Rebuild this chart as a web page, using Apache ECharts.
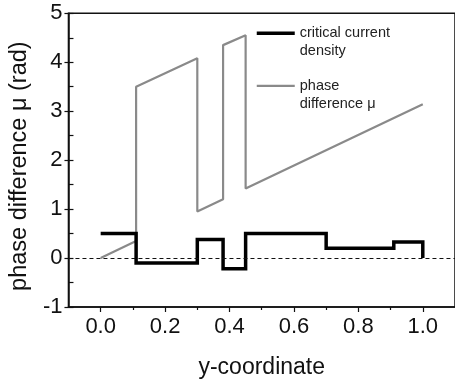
<!DOCTYPE html>
<html>
<head>
<meta charset="utf-8">
<script src="https://cdn.jsdelivr.net/npm/echarts@6/dist/echarts.min.js"></script>
<style>
  html, body { margin: 0; padding: 0; background: #fff; }
  #chart { width: 455px; height: 384px; }
</style>
</head>
<body>
<div id="chart"></div>
<script>
// Critical current density: piecewise constant between these edges
const jcEdges = [0, 0.11, 0.3, 0.38, 0.45, 0.7, 0.91, 1.0];
const jcValues = [0.5, -0.1, 0.38, -0.22, 0.5, 0.2, 0.33];

// Phase difference mu (rad) along the y-coordinate
const phaseX = [0, 0.11, 0.11, 0.3, 0.3, 0.38, 0.38, 0.45, 0.45, 1.0];
const phaseY = [0, 0.35, 3.5, 4.08, 0.95, 1.2, 4.35, 4.55, 1.42, 3.14];

// Axis tick positions
const xTicks = [0, 0.2, 0.4, 0.6, 0.8, 1.0];
const xMinorTicks = [0.1, 0.3, 0.5, 0.7, 0.9];

const seriesNames = ['critical current density', 'phase difference \u03bc'];
const legendLines = {
  'critical current density': ['critical current', 'density'],
  'phase difference \u03bc': ['phase', 'difference \u03bc']
};

// Build the step outline of the current density
const jcData = [];
for (let i = 0; i < jcValues.length; i++) {
  jcData.push([jcEdges[i], jcValues[i]]);
  jcData.push([jcEdges[i + 1], jcValues[i]]);
}
jcData.push([jcEdges[jcEdges.length - 1], 0]);

const phaseData = phaseX.map((x, i) => [x, phaseY[i]]);

const FONT = 'Liberation Sans, Arial, Helvetica, sans-serif';
const INK = '#111';
const chart = echarts.init(document.getElementById('chart'));

chart.setOption({
  animation: false,
  backgroundColor: '#fff',
  textStyle: { fontFamily: FONT },
  grid: {
    left: 66.7, top: 13.3, width: 389.8, bottom: 76.7,
    show: true, borderColor: INK, borderWidth: 1.5,
    containLabel: false
  },
  legend: {
    orient: 'vertical',
    left: 255, top: 6.3,
    padding: 0,
    itemGap: 0,
    itemWidth: 38,
    itemHeight: 2,
    lineStyle: { width: 'inherit' },
    data: [
      { name: seriesNames[0], icon: 'inherit' },
      { name: seriesNames[1], icon: 'inherit' }
    ],
    // the empty first row keeps the line level with the first text row
    formatter: name => '{e| }\n{t|' + legendLines[name][0] + '}\n{t|' + legendLines[name][1] + '}',
    textStyle: {
      fontFamily: FONT, fontSize: 14.5, color: '#222',
      rich: {
        e: { height: 18, lineHeight: 18, fontSize: 1 },
        t: { fontFamily: FONT, fontSize: 14.5, color: '#222', lineHeight: 18 }
      }
    }
  },
  xAxis: [{
    type: 'value', min: -0.1, max: 1.1,
    name: 'y-coordinate', nameLocation: 'middle', nameGap: 49,
    nameTextStyle: { fontSize: 23, color: INK, fontFamily: FONT },
    axisLine: { show: true, onZero: false, lineStyle: { color: INK, width: 1.5 } },
    axisTick: { show: true, inside: false, length: 5, customValues: xTicks, lineStyle: { color: INK, width: 1.2 } },
    axisLabel: { customValues: xTicks, fontSize: 22, color: INK, margin: 9, formatter: v => v.toFixed(1) },
    splitLine: { show: false }
  }, {
    type: 'value', min: -0.1, max: 1.1, position: 'bottom', gridIndex: 0,
    axisLine: { show: false, onZero: false },
    axisTick: { show: true, inside: false, length: 3, customValues: xMinorTicks, lineStyle: { color: INK, width: 1.2 } },
    axisLabel: { show: false },
    splitLine: { show: false }
  }],
  yAxis: [{
    type: 'value', min: -1, max: 5, interval: 1,
    name: 'phase difference \u03bc (rad)', nameLocation: 'middle', nameGap: 34,
    nameTextStyle: { fontSize: 23.5, color: INK, fontFamily: FONT, padding: [0, 12, 0, 0] },
    axisLine: { show: true, onZero: false, lineStyle: { color: INK, width: 1.5 } },
    axisTick: { show: true, inside: false, length: 4, lineStyle: { color: INK, width: 1.2 } },
    axisLabel: { fontSize: 22, color: INK, margin: 6 },
    splitLine: { show: false }
  }, {
    type: 'value', min: -1, max: 5, interval: 0.5, position: 'left', gridIndex: 0,
    axisLine: { show: false, onZero: false },
    axisTick: { show: true, inside: true, length: 5, lineStyle: { color: INK, width: 1.2 } },
    axisLabel: { show: false },
    splitLine: { show: false }
  }],
  series: [{
    name: seriesNames[1],
    type: 'line',
    data: phaseData,
    symbol: 'none',
    color: '#8a8a8a',
    lineStyle: { color: '#8a8a8a', width: 2.2 },
    z: 2
  }, {
    name: seriesNames[0],
    type: 'line',
    data: jcData,
    symbol: 'none',
    color: '#000',
    lineStyle: { color: '#000', width: 3.5, join: 'miter', cap: 'butt' },
    z: 3,
    markLine: {
      silent: true,
      symbol: 'none',
      label: { show: false },
      lineStyle: { color: INK, width: 1, type: [4, 3] },
      data: [{ yAxis: 0 }]
    }
  }]
});
</script>
</body>
</html>
